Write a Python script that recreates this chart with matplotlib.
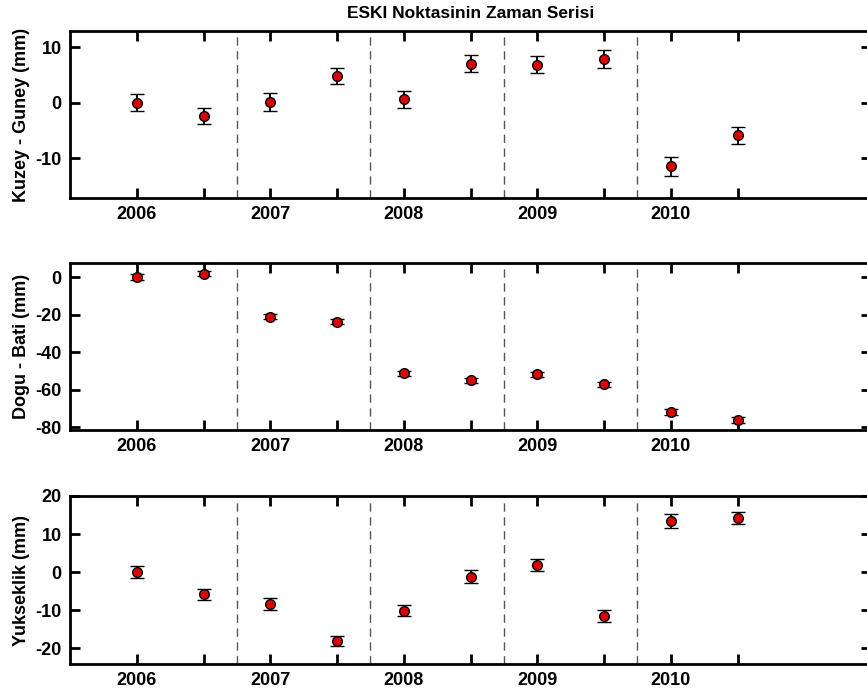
import matplotlib
matplotlib.use("Agg")
import matplotlib.pyplot as plt

plt.rcParams["font.family"] = ["Liberation Sans", "DejaVu Sans"]
plt.rcParams["font.weight"] = "bold"
plt.rcParams["axes.unicode_minus"] = False

# Epochs (decimal years)
epochs = [2006.0, 2006.5, 2007.0, 2007.5, 2008.0, 2008.5, 2009.0, 2009.5, 2010.0, 2010.5]
year_labels = ["2006", "2007", "2008", "2009", "2010"]
campaign_breaks = [2006.75, 2007.75, 2008.75, 2009.75]

# North-South component (mm)
north = [0.0, -2.5, 0.1, 4.8, 0.6, 7.0, 6.85, 7.9, -11.5, -5.9]
north_err = [1.5, 1.45, 1.6, 1.4, 1.5, 1.55, 1.5, 1.6, 1.75, 1.55]

# East-West component (mm)
east = [0.0, 1.8, -21.2, -23.8, -51.4, -55.1, -51.9, -57.2, -72.0, -76.4]
east_err = [1.4, 1.4, 1.4, 1.4, 1.4, 1.4, 1.4, 1.4, 1.5, 1.5]

# Height component (mm)
up = [0.0, -5.8, -8.5, -18.2, -10.2, -1.2, 1.75, -11.6, 13.4, 14.2]
up_err = [1.5, 1.45, 1.6, 1.35, 1.4, 1.6, 1.6, 1.6, 1.8, 1.6]

panels = [
    ("Kuzey - Guney (mm)", north, north_err, (-17.2, 12.9), [-10, 0, 10]),
    ("Dogu - Bati (mm)", east, east_err, (-81.6, 7.5), [-80, -60, -40, -20, 0]),
    ("Yukseklik (mm)", up, up_err, (-24.2, 20.0), [-20, -10, 0, 10, 20]),
]

W, H = 867, 697
fig = plt.figure(figsize=(W / 100, H / 100), dpi=100)

left_px, right_px = 70, 871
rows_px = [(31, 198), (263, 430), (496, 664)]

for (label, vals, errs, ylim, yticks), (top, bot) in zip(panels, rows_px):
    ax = fig.add_axes([left_px / W, 1 - bot / H, (right_px - left_px) / W, (bot - top) / H])
    for xb in campaign_breaks:
        ax.axvline(xb, color="#555555", lw=1.0, ls=(0, (6, 4)), zorder=1)
    ax.errorbar(epochs, vals, yerr=errs, fmt="o", color="black",
                mfc="#dd0000", mec="black", mew=1.0, ms=7,
                ecolor="black", elinewidth=1.4, capsize=5, capthick=1.6, zorder=3)
    ax.set_xlim(2005.5, 2011.5)
    ax.set_ylim(*ylim)
    ax.set_xticks(epochs)
    ax.set_xticklabels([year_labels[i // 2] if i % 2 == 0 else "" for i in range(len(epochs))])
    ax.set_yticks(yticks)
    ax.set_yticklabels([str(t) for t in yticks])
    ax.tick_params(direction="in", length=7, width=2, top=True, right=True,
                   labelsize=13, pad=6)
    for lab in ax.get_xticklabels() + ax.get_yticklabels():
        lab.set_fontweight("bold")
    for sp in ax.spines.values():
        sp.set_linewidth(2)
    ax.set_ylabel(label, fontsize=13, fontweight="bold", labelpad=4)
    if top == rows_px[0][0]:
        ax.set_title("ESKI Noktasinin Zaman Serisi", fontsize=12.5,
                     fontweight="bold", pad=9)

fig.savefig("out.png", dpi=100)
